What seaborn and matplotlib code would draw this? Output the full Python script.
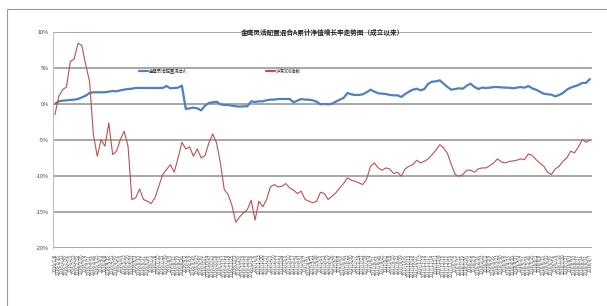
import pandas as pd
import seaborn as sns
import matplotlib.pyplot as plt
from matplotlib.patches import Rectangle

# cumulative return (%), one point per x tick
fund_ret = [0.0, 0.37, 0.46, 0.51, 0.55, 0.6, 0.69, 0.92, 1.15, 1.52,
            1.62, 1.62, 1.62, 1.62, 1.71, 1.8, 1.75, 1.89, 1.98, 2.08,
            2.12, 2.22, 2.22, 2.22, 2.22, 2.22, 2.22, 2.22, 2.22, 2.49,
            2.17, 2.22, 2.26, 2.54, -0.69, -0.6, -0.51, -0.6, -0.88, -0.23,
            0.14, 0.23, 0.32, -0.05, -0.14, -0.14, -0.23, -0.32, -0.37, -0.32,
            -0.32, 0.37, 0.28, 0.37, 0.37, 0.51, 0.6, 0.6, 0.69, 0.69,
            0.69, 0.69, 0.23, 0.46, 0.69, 0.6, 0.6, 0.51, 0.32, -0.05,
            0.0, -0.05, 0.05, 0.32, 0.6, 0.83, 1.52, 1.34, 1.25, 1.25,
            1.34, 1.62, 1.98, 1.71, 1.48, 1.43, 1.38, 1.25, 1.2, 1.2,
            0.97, 1.38, 1.71, 1.98, 2.12, 1.89, 2.08, 2.81, 3.09, 3.14,
            3.28, 2.81, 2.35, 1.98, 2.08, 2.17, 2.12, 2.54, 2.81, 2.35,
            2.08, 2.26, 2.22, 2.26, 2.35, 2.35, 2.31, 2.26, 2.26, 2.17,
            2.26, 2.35, 2.26, 2.49, 2.17, 1.98, 1.71, 1.43, 1.34, 1.29,
            1.06, 1.25, 1.52, 1.98, 2.26, 2.45, 2.63, 2.91, 2.91, 3.46]

index_ret = [-1.48, 1.06, 1.98, 2.35, 5.9, 6.23, 8.44, 8.08, 5.45, 3.14,
             -4.25, -7.25, -4.94, -5.86, -2.63, -7.01, -6.55, -4.94, -3.78, -5.86,
             -13.24, -13.0, -11.77, -13.24, -13.47, -13.8, -13.0, -11.4, -9.78, -9.09,
             -8.4, -9.46, -7.48, -5.31, -6.23, -5.95, -7.25, -6.23, -7.48, -7.15,
             -5.4, -4.15, -5.4, -8.17, -11.86, -12.55, -14.07, -16.38, -15.64, -15.09,
             -14.63, -13.34, -16.1, -13.47, -14.26, -13.24, -11.49, -11.17, -11.49, -11.4,
             -11.03, -11.63, -11.95, -12.41, -12.09, -13.24, -13.47, -13.7, -13.47, -12.23,
             -12.41, -13.24, -12.78, -12.32, -11.63, -11.03, -10.24, -10.57, -10.71, -10.94,
             -11.17, -10.38, -8.63, -8.17, -8.86, -9.18, -8.86, -9.0, -9.64, -9.46,
             -10.01, -9.0, -8.63, -8.4, -7.8, -8.17, -7.94, -7.61, -7.01, -6.41,
             -5.63, -6.09, -6.88, -8.4, -9.78, -10.01, -9.78, -9.18, -9.18, -9.46,
             -9.0, -8.86, -8.86, -8.54, -8.17, -7.61, -8.03, -8.17, -7.98, -7.89,
             -7.8, -7.61, -7.71, -6.92, -7.11, -7.71, -8.17, -8.63, -9.46, -9.78,
             -9.0, -8.63, -7.94, -7.48, -6.55, -6.78, -5.95, -4.94, -5.31, -5.03]

dates = pd.date_range('2016-01-08', periods=len(fund_ret), freq='W-FRI')
date_labels = [f"{d.year}/{d.month}/{d.day}" for d in dates]

series_names = ['金鹰灵活配置混合A', '沪深300指数']
colors = ['#4f81bd', '#c0504d']
y_ticks = [10, 5, 0, -5, -10, -15, -20]
title = '金鹰灵活配置混合A累计净值增长率走势图（成立以来）'

df = pd.DataFrame({'x': range(len(fund_ret)), series_names[0]: fund_ret,
                   series_names[1]: index_ret})
df = df.melt(id_vars='x', var_name='series', value_name='ret')

sns.set_style('white')
plt.rcParams['font.family'] = ['Noto Sans CJK SC', 'DejaVu Sans']

fig = plt.figure(figsize=(6.07, 3.06), dpi=100)
ax = fig.add_axes([0.0873, 0.1886, 0.8877, 0.7074])

sns.lineplot(data=df, x='x', y='ret', hue='series', palette=colors, ax=ax)
for line, lw in zip(ax.lines, [1.6, 0.8]):
    line.set_linewidth(lw)

ax.set_ylim(-20, 10)
ax.set_xlim(-0.5, len(fund_ret) - 0.5)
ax.set_yticks(y_ticks)
ax.set_yticklabels([f"{v}%" for v in y_ticks], fontsize=4, color='#404040')
ax.set_xticks(range(len(date_labels)))
ax.set_xticklabels(date_labels, rotation=90, fontsize=3.2, color='#404040')
ax.tick_params(axis='x', length=0, pad=4)
ax.tick_params(axis='y', length=2, color='#a6a6a6', pad=1)
ax.grid(axis='y', color='#a0a0a0', linewidth=1.3)
ax.set_axisbelow(True)
for s in ['top', 'right', 'bottom']:
    ax.spines[s].set_visible(False)
ax.spines['left'].set_color('#bfbfbf')
ax.set_xlabel('')
ax.set_ylabel('')

ax.set_title(title, fontsize=4.8, fontweight='bold', pad=-2)
leg = ax.legend(title=None, ncol=2, frameon=False, fontsize=3.2, columnspacing=18,
                handlelength=2.0, handletextpad=0.2, loc='center',
                bbox_to_anchor=(0.31, 0.818))
for h in leg.get_lines():
    h.set_linewidth(1.6)

# outer chart frame
fig.patches.append(Rectangle((0.011, -0.01), 1.0, 0.979, transform=fig.transFigure,
                             fill=False, edgecolor='#9a9a9a', linewidth=0.8))

fig.savefig('out.png', dpi=100)
